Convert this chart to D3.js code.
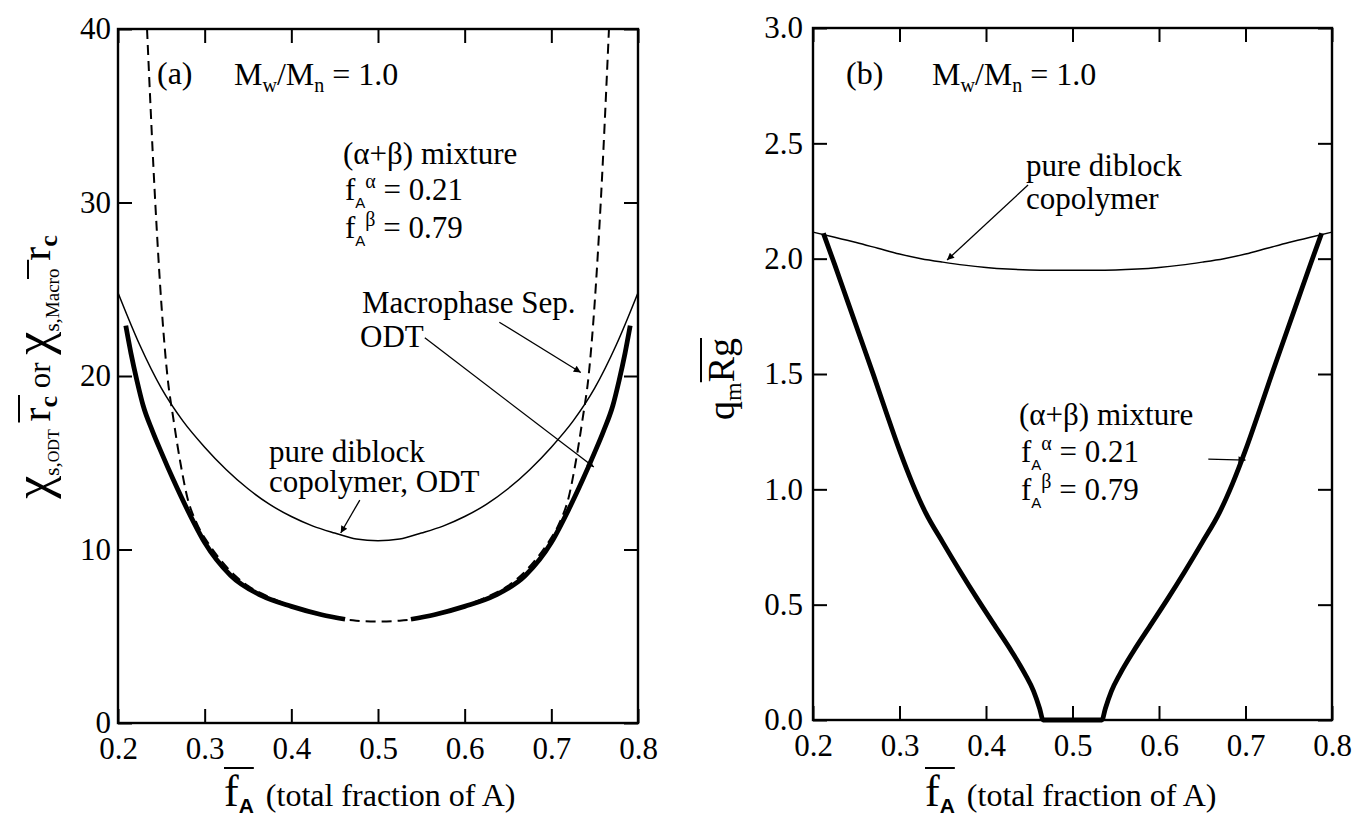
<!DOCTYPE html>
<html>
<head>
<meta charset="utf-8">
<script src="https://cdn.jsdelivr.net/npm/d3@7"></script>
<style>
  body { margin: 0; background: #fff; }
  svg text { font-family: "Liberation Serif", "Times New Roman", Times, "DejaVu Serif", serif; fill: #000; }
</style>
</head>
<body>
<div id="chart"></div>
<script>
// ---- data ----
const fTicks = [0.2, 0.3, 0.4, 0.5, 0.6, 0.7, 0.8]
const chiTicks = [0, 10, 20, 30, 40]
const qTicks = [0, 0.5, 1.0, 1.5, 2.0, 2.5, 3.0]

// (a) pure diblock ODT (thin)
const pureOdtF   = [0.2, 0.225, 0.25, 0.275, 0.3, 0.325, 0.35, 0.375, 0.4, 0.425, 0.45, 0.475, 0.5,
                    0.525, 0.55, 0.575, 0.6, 0.625, 0.65, 0.675, 0.7, 0.725, 0.75, 0.775, 0.8]
const pureOdtChi = [24.8, 21.8, 19.3, 17.4, 15.9, 14.6, 13.5, 12.6, 11.9, 11.35, 10.95, 10.6, 10.5,
                    10.6, 10.95, 11.35, 11.9, 12.6, 13.5, 14.6, 15.9, 17.4, 19.3, 21.8, 24.8]

// (a) macrophase separation (dashed)
const macroF   = [0.2335, 0.243, 0.25, 0.257, 0.264, 0.272, 0.28, 0.29, 0.305, 0.32, 0.335, 0.35, 0.375, 0.4, 0.425, 0.45, 0.475, 0.5,
                  0.525, 0.55, 0.575, 0.6, 0.625, 0.65, 0.665, 0.68, 0.695, 0.71, 0.72, 0.728, 0.736, 0.743, 0.75, 0.757, 0.7665]
const macroChi = [40, 30, 24.2, 20, 17.5, 15, 13, 11.6, 10.3, 9.3, 8.5, 7.9, 7.25, 6.75, 6.35, 6.05, 5.9, 5.85,
                  5.9, 6.05, 6.35, 6.75, 7.25, 7.9, 8.5, 9.3, 10.3, 11.6, 13, 15, 17.5, 20, 24.2, 30, 40]

// (a) mixture ODT (thick), two branches
const mixOdtLeftF    = [0.209, 0.215, 0.222, 0.229, 0.24, 0.25, 0.264, 0.28, 0.3, 0.33, 0.365, 0.4, 0.435, 0.462]
const mixOdtLeftChi  = [22.9, 21.3, 19.7, 18.3, 16.8, 15.6, 14.0, 12.3, 10.4, 8.5, 7.35, 6.72, 6.24, 5.98]
const mixOdtRightF   = [0.538, 0.565, 0.6, 0.635, 0.67, 0.7, 0.72, 0.736, 0.75, 0.76, 0.771, 0.778, 0.785, 0.791]
const mixOdtRightChi = [5.98, 6.24, 6.72, 7.35, 8.5, 10.4, 12.3, 14.0, 15.6, 16.8, 18.3, 19.7, 21.3, 22.9]

// (b) pure diblock q*Rg (thin)
const pureQF = [0.2, 0.225, 0.25, 0.275, 0.3, 0.325, 0.35, 0.375, 0.4, 0.425, 0.45, 0.475, 0.5,
                0.525, 0.55, 0.575, 0.6, 0.625, 0.65, 0.675, 0.7, 0.725, 0.75, 0.775, 0.8]
const pureQ  = [2.115, 2.093, 2.07, 2.045, 2.02, 2.0, 1.985, 1.972, 1.962, 1.955, 1.951, 1.95, 1.95,
                1.95, 1.951, 1.955, 1.962, 1.972, 1.985, 2.0, 2.02, 2.045, 2.07, 2.093, 2.115]

// (b) mixture q*Rg (thick)
const mixQF = [0.212, 0.225, 0.24, 0.255, 0.27, 0.285, 0.3, 0.315, 0.33, 0.35, 0.37, 0.39, 0.41, 0.43, 0.445, 0.455, 0.462, 0.466,
               0.534, 0.538, 0.545, 0.555, 0.57, 0.59, 0.61, 0.63, 0.65, 0.67, 0.685, 0.7, 0.715, 0.73, 0.745, 0.76, 0.775, 0.788]
const mixQ  = [2.11, 1.975, 1.815, 1.655, 1.495, 1.33, 1.17, 1.025, 0.9, 0.77, 0.645, 0.525, 0.41, 0.295, 0.2, 0.125, 0.05, 0.0,
               0.0, 0.05, 0.125, 0.2, 0.295, 0.41, 0.525, 0.645, 0.77, 0.9, 1.025, 1.17, 1.33, 1.495, 1.655, 1.815, 1.975, 2.11]

const zip = (a, b) => a.map((v, i) => [v, b[i]])
const SANS = "'Liberation Sans', Arial, sans-serif"

// ---- svg ----
const svg = d3.select("#chart").append("svg")
    .attr("width", 1354)
    .attr("height", 822)

svg.append("defs").append("marker")
    .attr("id", "arrow")
    .attr("viewBox", "0 0 10 10")
    .attr("refX", 10).attr("refY", 5)
    .attr("markerWidth", 13).attr("markerHeight", 7)
    .attr("markerUnits", "userSpaceOnUse")
    .attr("orient", "auto")
    .append("path").attr("d", "M0,0L10,5L0,10z").attr("fill", "#000")

// text made of several pieces (sub/superscripts)
function rich(g, x, y, size, parts) {
    const t = g.append("text").attr("x", x).attr("y", y).style("font-size", size + "px")
    parts.forEach(p => {
        const s = t.append("tspan").text(p.t)
        if (p.size) s.style("font-size", p.size + "px")
        if (p.dy) s.attr("dy", p.dy)
        if (p.dx) s.attr("dx", p.dx)
        if (p.fam) s.style("font-family", p.fam)
        if (p.w) s.style("font-weight", p.w)
    })
    return t
}

function overline(g, text, from, to, off, extra) {
    const n = text.node()
    const a = n.getStartPositionOfChar(from)
    const b = n.getEndPositionOfChar(to)
    g.append("line")
        .attr("x1", a.x - extra).attr("x2", b.x + extra)
        .attr("y1", a.y - off).attr("y2", a.y - off)
        .attr("stroke", "#000").attr("stroke-width", 2)
}

function panel(box, yDomain, yTicks, yFmt, yPad) {
    const x = d3.scaleLinear().domain([0.2, 0.8]).range([box.left, box.right])
    const y = d3.scaleLinear().domain(yDomain).range([box.bottom, box.top])
    const g = svg.append("g")

    const styleAxis = sel => {
        sel.attr("font-family", null)
        sel.select(".domain").remove()
        sel.selectAll("line").attr("stroke-width", 2)
        sel.selectAll("text").style("font-size", "31px").attr("fill", "#000")
    }

    g.append("g").attr("transform", `translate(0,${box.bottom})`)
        .call(d3.axisBottom(x).tickValues(fTicks).tickSize(-14).tickPadding(14).tickFormat(d3.format(".1f")))
        .call(styleAxis)
    g.append("g").attr("transform", `translate(0,${box.top})`)
        .call(d3.axisTop(x).tickValues(fTicks).tickSize(-14).tickFormat(""))
        .call(styleAxis)
    g.append("g").attr("transform", `translate(${box.left},0)`)
        .call(d3.axisLeft(y).tickValues(yTicks).tickSize(-14).tickPadding(yPad).tickFormat(yFmt))
        .call(styleAxis)
    g.append("g").attr("transform", `translate(${box.right},0)`)
        .call(d3.axisRight(y).tickValues(yTicks).tickSize(-14).tickFormat(""))
        .call(styleAxis)

    g.append("rect")
        .attr("x", box.left).attr("y", box.top)
        .attr("width", box.right - box.left).attr("height", box.bottom - box.top)
        .attr("fill", "none").attr("stroke", "#000").attr("stroke-width", 2.4)

    const line = d3.line().x(d => x(d[0])).y(d => y(d[1])).curve(d3.curveMonotoneX)
    return {g, x, y, line}
}

function curve(p, pts, width, dash) {
    p.g.append("path")
        .datum(pts)
        .attr("d", p.line)
        .attr("fill", "none")
        .attr("stroke", "#000")
        .attr("stroke-width", width)
        .attr("stroke-dasharray", dash || null)
}

function arrow(p, from, to) {
    p.g.append("line")
        .attr("x1", p.x(from[0])).attr("y1", p.y(from[1]))
        .attr("x2", p.x(to[0])).attr("y2", p.y(to[1]))
        .attr("stroke", "#000").attr("stroke-width", 1.3)
        .attr("marker-end", "url(#arrow)")
}

function xTitle(p, x0) {
    const t = rich(p.g, x0, 806, 32, [
        {t: "f", size: 44},
        {t: "A", size: 21, dy: 7, fam: SANS, w: "bold"},
        {t: " (total fraction of A)", dy: -7, dx: 4}
    ])
    overline(p.g, t, 0, 1, 38, 0)
}

// ---- panel (a) ----
const a = panel({left: 118, right: 638, top: 29, bottom: 723}, [0, 40], chiTicks, d3.format("d"), 7)

curve(a, zip(pureOdtF, pureOdtChi), 1.5)
curve(a, zip(macroF, macroChi), 2, "10,6")
curve(a, zip(mixOdtLeftF, mixOdtLeftChi), 4.8)
curve(a, zip(mixOdtRightF, mixOdtRightChi), 4.8)

a.g.append("text").attr("x", 157).attr("y", 84).style("font-size", "32px").text("(a)")
rich(a.g, 234, 85, 32, [
    {t: "M"}, {t: "w", size: 20, dy: 7}, {t: "/M", dy: -7}, {t: "n", size: 20, dy: 7}, {t: " = 1.0", dy: -7}
])
a.g.append("text").attr("x", 343).attr("y", 164).style("font-size", "31px").text("(α+β) mixture")
rich(a.g, 345, 200, 31, [
    {t: "f"}, {t: "A", size: 15, dy: 8, fam: SANS}, {t: "α", size: 20, dy: -20}, {t: " = 0.21", dy: 12}
])
rich(a.g, 345, 238, 31, [
    {t: "f"}, {t: "A", size: 15, dy: 8, fam: SANS}, {t: "β", size: 20, dy: -20}, {t: " = 0.79", dy: 12}
])
a.g.append("text").attr("x", 362).attr("y", 313).style("font-size", "31px").text("Macrophase Sep.")
a.g.append("text").attr("x", 360).attr("y", 347).style("font-size", "31px").text("ODT")
a.g.append("text").attr("x", 269).attr("y", 462).style("font-size", "31px").text("pure diblock")
a.g.append("text").attr("x", 269).attr("y", 492).style("font-size", "31px").text("copolymer, ODT")

arrow(a, [0.640, 23.1], [0.734, 20.2])
arrow(a, [0.554, 22.2], [0.749, 14.75])
arrow(a, [0.479, 12.85], [0.457, 10.95])

xTitle(a, 224)

// y title (a)
const ya = a.g.append("g").attr("transform", "translate(50,367) rotate(-90)")
const yaText = rich(ya, 0, 0, 31, [
    {t: "χ", size: 52},
    {t: "s,", size: 21, dy: 9},
    {t: "ODT", size: 16},
    {t: " ", dy: -9},
    {t: "r", size: 42},
    {t: "c", size: 26, dy: 7, w: "bold"},
    {t: " or ", dy: -7},
    {t: "χ", size: 52},
    {t: "s,", size: 21, dy: 9},
    {t: "Macro", size: 19},
    {t: " ", dy: -9},
    {t: "r", size: 42},
    {t: "c", size: 26, dy: 7, w: "bold"}
]).attr("text-anchor", "middle")
overline(ya, yaText, 7, 8, 31, 1)
overline(ya, yaText, 20, 21, 31, 1)

// ---- panel (b) ----
const b = panel({left: 813, right: 1332, top: 28, bottom: 720}, [0, 3], qTicks, d3.format(".1f"), 10)

curve(b, zip(pureQF, pureQ), 1.5)
curve(b, zip(mixQF, mixQ), 4.8)

b.g.append("text").attr("x", 846).attr("y", 84).style("font-size", "32px").text("(b)")
rich(b.g, 932, 85, 32, [
    {t: "M"}, {t: "w", size: 20, dy: 7}, {t: "/M", dy: -7}, {t: "n", size: 20, dy: 7}, {t: " = 1.0", dy: -7}
])
b.g.append("text").attr("x", 1026).attr("y", 176).style("font-size", "31px").text("pure diblock")
b.g.append("text").attr("x", 1026).attr("y", 209).style("font-size", "31px").text("copolymer")
b.g.append("text").attr("x", 1019).attr("y", 425).style("font-size", "31px").text("(α+β) mixture")
rich(b.g, 1021, 462, 31, [
    {t: "f"}, {t: "A", size: 15, dy: 8, fam: SANS}, {t: "α", size: 20, dy: -20}, {t: " = 0.21", dy: 12}
])
rich(b.g, 1021, 500, 31, [
    {t: "f"}, {t: "A", size: 15, dy: 8, fam: SANS}, {t: "β", size: 20, dy: -20}, {t: " = 0.79", dy: 12}
])

arrow(b, [0.4486, 2.319], [0.355, 1.994])
arrow(b, [0.657, 1.131], [0.700, 1.127])

xTitle(b, 925)

// y title (b)
const yb = b.g.append("g").attr("transform", "translate(734,379) rotate(-90)")
const ybText = rich(yb, 0, 0, 38, [
    {t: "q"},
    {t: "m", size: 24, dy: 7},
    {t: "Rg", dy: -7}
]).attr("text-anchor", "middle")
overline(yb, ybText, 2, 3, 33, 0)
</script>
</body>
</html>
